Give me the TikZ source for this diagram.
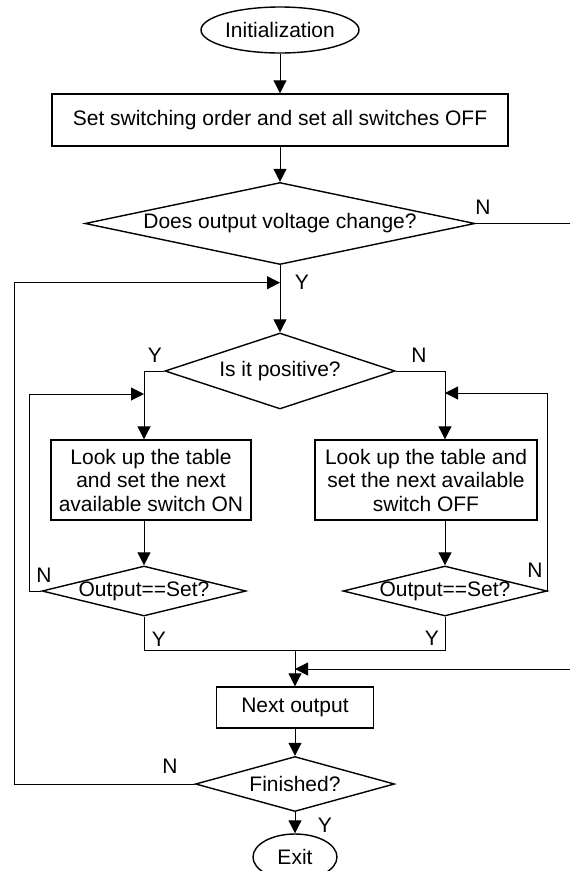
\documentclass[tikz,border=0pt]{standalone}
\usepackage{fontspec}
\setmainfont{Liberation Sans}
\usetikzlibrary{shapes.geometric, arrows.meta}
\tikzset{
  conn/.style={line width=1pt},
  arr/.style={conn, -{Triangle[length=13pt,width=13pt]}},
  proc/.style={draw, line width=1.4pt, rectangle, inner sep=0pt, align=center},
  dia/.style={draw, line width=1.4pt, diamond, inner sep=0pt},
  term/.style={draw, line width=1.4pt, ellipse, inner sep=0pt},
  lab/.style={inner sep=0pt}
}
\begin{document}
\begin{tikzpicture}[x=1pt, y=-1pt, font=\fontsize{21}{23.5}\selectfont]
\useasboundingbox (0,0) rectangle (570,871);

% nodes
\node[term, minimum width=158, minimum height=46] (init) at (280,30) {Initialization};
\node[proc, minimum width=456, minimum height=52] (set) at (280,120) {Set switching order and set all switches OFF};
\node[dia, minimum width=390, minimum height=82, label={[lab]center:Does output voltage change?}] (d1) at (280,223.5) {};
\node[dia, minimum width=230, minimum height=76, label={[lab]center:Is it positive?}] (d2) at (280,371) {};
\node[proc, minimum width=200, minimum height=80] (lbox) at (151,480) {Look up the table\\and set the next\\available switch ON};
\node[proc, minimum width=222, minimum height=80] (rbox) at (426,480) {Look up the table and\\set the next available\\switch OFF};
\node[dia, minimum width=204, minimum height=50, label={[lab]center:Output==Set?}] (d3) at (144,591) {};
\node[dia, minimum width=204, minimum height=50, label={[lab]center:Output==Set?}] (d4) at (445,591) {};
\node[proc, minimum width=157, minimum height=41] (next) at (295,707.5) {Next output};
\node[dia, minimum width=199, minimum height=55, label={[lab]center:Finished?}] (d5) at (295,784) {};
\node[term, minimum width=84, minimum height=46] (exit) at (295,857) {Exit};

% coordinates
\coordinate (d1r) at (570,223.5);
\coordinate (j1) at (280,282.7);
\coordinate (lcorner) at (14,784);
\coordinate (ll) at (29,394);
\coordinate (rl) at (547,393);
\coordinate (jy) at (0,650);
\coordinate (rin) at (570,669);

% connectors
\draw[arr] (init) -- (set);
\draw[arr] (set) -- (d1);
\draw[conn] (d1.east) -- (d1r);
\draw[arr] (d1.south) -- (d2.north);
\draw[arr] (d5.west) -- (lcorner) |- (j1);
\draw[arr] (d2.west) -| (lbox.north -| d3.north);
\draw[arr] (lbox.south -| d3.north) -- (d3.north);
\draw[arr] (d3.west) -| (ll) -- (ll -| d3.north);
\draw[arr] (d2.east) -| (rbox.north -| d4.north);
\draw[arr] (rbox.south -| d4.north) -- (d4.north);
\draw[arr] (d4.east) -| (rl) -- (rl -| d4.north);
\draw[conn] (d3.south) |- (jy -| d4.south) -- (d4.south);
\draw[arr] (jy -| next.north) -- (next.north);
\draw[arr] (rin) -- (rin -| next.north);
\draw[arr] (next.south) -- (d5.north);
\draw[arr] (d5.south) -- (exit.north);

% labels
\node[lab] (n1) at (483,207) {N};
\node[lab] (y1) at (302,282) {Y};
\node[lab] (y2) at (155,355) {Y};
\node[lab] (n2) at (419,355) {N};
\node[lab] (n3) at (44,575) {N};
\node[lab] (n4) at (535,570) {N};
\node[lab] (y3) at (159,639) {Y};
\node[lab] (y4) at (432,638) {Y};
\node[lab] (n5) at (170,766) {N};
\node[lab] (y5) at (325,825) {Y};
\end{tikzpicture}
\end{document}
